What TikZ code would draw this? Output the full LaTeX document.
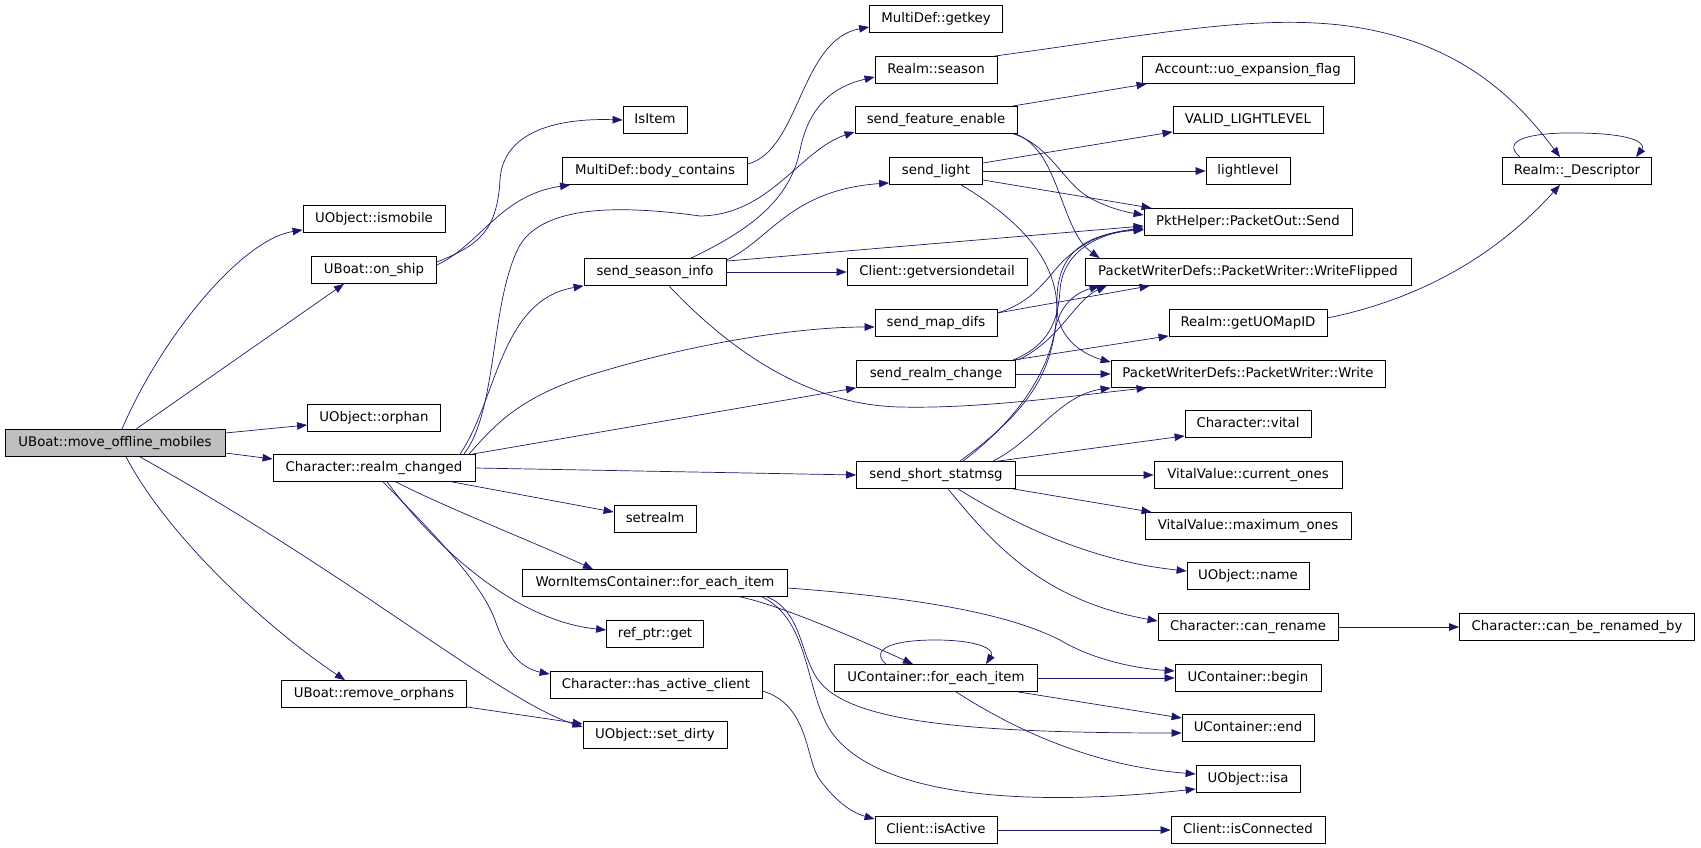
\documentclass[tikz,border=0pt]{standalone}
\usepackage{fontspec}
\setmainfont{DejaVu Sans}
\usetikzlibrary{arrows.meta}
\definecolor{callblue}{RGB}{25,25,112}
\definecolor{rootgray}{RGB}{191,191,191}
\tikzset{
    fn/.style={rectangle, draw, line width=0.8pt, minimum height=27pt, inner xsep=2pt, inner ysep=0pt, text height=10pt, text depth=3pt, font=\fontsize{13.3}{15}\selectfont},
    root/.style={fn, fill=rootgray},
    call/.style={color=callblue, line width=0.7pt, -{Triangle[length=10pt, width=7.5pt]}}
}
\begin{document}
\begin{tikzpicture}[x=1pt, y=-1pt]
        \useasboundingbox (0,0) rectangle (1701,848);

        \node (M) [root, minimum width=220pt] at (115,443) {UBoat::move\_offline\_mobiles};

        \node (ismobile) [fn, minimum width=142pt] at (374,219) {UObject::ismobile};
        \node (onship) [fn, minimum width=125pt] at (374,270) {UBoat::on\_ship};
        \node (orphan) [fn, minimum width=133pt] at (374,418) {UObject::orphan};
        \node (R) [fn, minimum width=202pt] at (374,468) {Character::realm\_changed};
        \node (remove) [fn, minimum width=185pt] at (374,694) {UBoat::remove\_orphans};

        \node (isitem) [fn, minimum width=64pt] at (655,120) {IsItem};
        \node (body) [fn, minimum width=185pt] at (655,171) {MultiDef::body\_contains};
        \node (S) [fn, minimum width=142pt] at (655,272) {send\_season\_info};
        \node (setrealm) [fn, minimum width=82pt] at (655,519) {setrealm};
        \node (W) [fn, minimum width=265pt] at (655,583) {WornItemsContainer::for\_each\_item};
        \node (ref) [fn, minimum width=97pt] at (655,634) {ref\_ptr::get};
        \node (hasclient) [fn, minimum width=212pt] at (656,685) {Character::has\_active\_client};
        \node (dirty) [fn, minimum width=144pt] at (655,735) {UObject::set\_dirty};

        \node (getkey) [fn, minimum width=133pt] at (936,19) {MultiDef::getkey};
        \node (season) [fn, minimum width=122pt] at (936,70) {Realm::season};
        \node (F) [fn, minimum width=162pt] at (936,120) {send\_feature\_enable};
        \node (L) [fn, minimum width=93pt] at (936,171) {send\_light};
        \node (getver) [fn, minimum width=180pt] at (937,272) {Client::getversiondetail};
        \node (D) [fn, minimum width=122pt] at (936,323) {send\_map\_difs};
        \node (C) [fn, minimum width=159pt] at (936,374) {send\_realm\_change};
        \node (T) [fn, minimum width=159pt] at (936,475) {send\_short\_statmsg};
        \node (U) [fn, minimum width=203pt] at (936,678) {UContainer::for\_each\_item};
        \node (active) [fn, minimum width=122pt] at (936,830) {Client::isActive};

        \node (account) [fn, minimum width=212pt] at (1248,70) {Account::uo\_expansion\_flag};
        \node (valid) [fn, minimum width=150pt] at (1248,120) {VALID\_LIGHTLEVEL};
        \node (light) [fn, minimum width=84pt] at (1248,171) {lightlevel};
        \node (send) [fn, minimum width=208pt] at (1248,222) {PktHelper::PacketOut::Send};
        \node (WF) [fn, minimum width=326pt] at (1248,272) {PacketWriterDefs::PacketWriter::WriteFlipped};
        \node (mapid) [fn, minimum width=158pt] at (1248,323) {Realm::getUOMapID};
        \node (write) [fn, minimum width=274pt] at (1248,374) {PacketWriterDefs::PacketWriter::Write};
        \node (vital) [fn, minimum width=126pt] at (1248,424) {Character::vital};
        \node (current) [fn, minimum width=188pt] at (1248,475) {VitalValue::current\_ones};
        \node (maximum) [fn, minimum width=206pt] at (1248,526) {VitalValue::maximum\_ones};
        \node (name) [fn, minimum width=122pt] at (1248,576) {UObject::name};
        \node (rename) [fn, minimum width=180pt] at (1248,627) {Character::can\_rename};
        \node (begin) [fn, minimum width=146pt] at (1248,678) {UContainer::begin};
        \node (end) [fn, minimum width=132pt] at (1248,728) {UContainer::end};
        \node (isa) [fn, minimum width=104pt] at (1248,779) {UObject::isa};
        \node (connected) [fn, minimum width=154pt] at (1248,830) {Client::isConnected};

        \node (desc) [fn, minimum width=149pt] at (1577,171) {Realm::\_Descriptor};
        \node (renamedby) [fn, minimum width=235pt] at (1577,627) {Character::can\_be\_renamed\_by};

        % move_offline_mobiles
        \draw [call] ([xshift=7pt]M.north) .. controls (160,340) and (240,240) .. ([yshift=3pt]ismobile.south west);
        \draw [call] ([xshift=21pt]M.north) -- ([xshift=-30pt]onship.south);
        \draw [call] ([yshift=10pt]M.east) -- ([yshift=-7pt]orphan.west);
        \draw [call] ([yshift=-10pt]M.east) -- ([yshift=9pt]R.west);
        \draw [call] ([xshift=11pt]M.south) .. controls (170,540) and (270,630) .. ([xshift=-29pt]remove.north);
        \draw [call] ([xshift=25pt]M.south) .. controls (360,580) and (500,700) .. ([yshift=8pt]dirty.west);
        \draw [call] ([yshift=-13pt]remove.east) -- ([yshift=11pt]dirty.west);

        % on_ship
        \draw [call] ([yshift=8pt]onship.east) .. controls (480,245) and (497,230) .. (500,180) .. controls (503,130) and (560,118) .. (isitem.west);
        \draw [call] ([yshift=5pt]onship.east) .. controls (480,245) and (500,195) .. ([xshift=8pt]body.south west);
        \draw [call] ([yshift=7pt]body.east) .. controls (800,150) and (800,40) .. ([yshift=-8pt]getkey.west);

        % realm_changed
        \draw [call] ([xshift=90pt]R.north) .. controls (498,410) and (490,300) .. (520,245) .. controls (545,205) and (620,205) .. (700,216) .. controls (770,215) and (800,150) .. ([yshift=2pt]F.south west);
        \draw [call] ([xshift=86pt]R.north) .. controls (497,400) and (500,300) .. (S.south west);
        \draw [call] ([xshift=95pt]R.north) .. controls (495,425) and (520,395) .. (600,372) .. controls (700,342) and (800,327) .. ([yshift=-4pt]D.west);
        \draw [call] ([xshift=-3pt]R.north east) -- (C.south west);
        \draw [call] (R.east) -- (T.west);
        \draw [call] ([xshift=78pt]R.south) -- ([yshift=7pt]setrealm.west);
        \draw [call] ([xshift=22pt]R.south) .. controls (440,505) and (540,545) .. ([xshift=-62pt]W.north);
        \draw [call] ([xshift=13pt]R.south) .. controls (430,540) and (510,620) .. ([yshift=4pt]ref.west);
        \draw [call] ([xshift=9pt]R.south) .. controls (430,530) and (480,580) .. (495,620) .. controls (505,650) and (520,668) .. ([yshift=-3pt]hasclient.north west);

        % send_season_info
        \draw [call] ([xshift=36pt]S.north) .. controls (750,230) and (790,200) .. (800,150) .. controls (810,100) and (840,85) .. ([yshift=-7pt]season.west);
        \draw [call] ([yshift=-2pt]S.north east) .. controls (770,240) and (790,190) .. ([yshift=2pt]L.south west);
        \draw [call] ([yshift=-3pt]S.north east) -- ([yshift=-4pt]send.west);
        \draw [call] (S.east) -- (getver.west);
        \draw [call] ([xshift=14pt]S.south) .. controls (720,340) and (800,405) .. (900,407) .. controls (980,409) and (1080,395) .. ([xshift=36pt]write.south west);

        % send_feature_enable, send_light
        \draw [call] ([xshift=-5pt]F.north east) -- ([xshift=5pt]account.south west);
        \draw [call] ([xshift=-4pt]F.south east) .. controls (1050,145) and (1065,185) .. (1090,198) .. controls (1105,206) and (1120,211) .. ([yshift=7pt]send.west);
        \draw [call] ([xshift=-2pt]F.south east) .. controls (1060,150) and (1060,230) .. ([xshift=15pt]WF.north west);
        \draw [call] ([yshift=8pt]L.east) -- ([yshift=2pt]valid.south west);
        \draw [call] (L.east) -- (light.west);
        \draw [call] ([yshift=-9pt]L.east) -- ([xshift=8pt]send.north west);
        \draw [call] ([xshift=25pt]L.south) .. controls (1020,220) and (1057,260) .. (1057,310) .. controls (1059,340) and (1085,355) .. ([yshift=-2pt]write.north west);

        % send_map_difs, send_realm_change
        \draw [call] ([yshift=10pt]D.east) .. controls (1040,300) and (1050,270) .. (1070,255) .. controls (1090,238) and (1110,232) .. ([yshift=-6pt]send.west);
        \draw [call] ([yshift=10pt]D.east) -- ([xshift=65pt]WF.south west);
        \draw [call] ([xshift=-3pt]C.north east) .. controls (1050,345) and (1058,320) .. (1060,290) .. controls (1063,250) and (1100,233) .. ([yshift=-7pt]send.west);
        \draw [call] ([xshift=2pt]C.north east) .. controls (1060,340) and (1075,300) .. ([xshift=22pt]WF.south west);
        \draw [call] ([xshift=-3pt]C.north east) -- ([yshift=1pt]mapid.south west);
        \draw [call] (C.east) -- (write.west);

        % send_short_statmsg
        \draw [call] ([xshift=24pt]T.north) .. controls (1030,410) and (1057,370) .. (1057,300) .. controls (1057,250) and (1090,233) .. ([yshift=-8pt]send.west);
        \draw [call] ([xshift=27pt]T.north) .. controls (1030,410) and (1050,360) .. (1055,330) .. controls (1060,305) and (1075,293) .. ([xshift=15pt]WF.south west);
        \draw [call] ([xshift=57pt]T.north) .. controls (1035,440) and (1060,395) .. (write.south west);
        \draw [call] ([xshift=-18pt]T.north east) -- ([yshift=2pt]vital.south west);
        \draw [call] (T.east) -- (current.west);
        \draw [call] ([xshift=-3pt]T.south east) -- ([xshift=7pt]maximum.north west);
        \draw [call] ([xshift=22pt]T.south) .. controls (1000,515) and (1080,560) .. ([yshift=5pt]name.west);
        \draw [call] ([xshift=12pt]T.south) .. controls (990,540) and (1040,600) .. ([yshift=6pt]rename.west);

        % Realm::_Descriptor
        \draw [call] ([xshift=-3pt]season.north east) .. controls (1150,35) and (1250,15) .. (1340,25) .. controls (1450,38) and (1510,90) .. ([xshift=-17pt]desc.north);
        \draw [call] ([xshift=-57pt]desc.north) .. controls (1500,140) and (1530,132) .. (1580,133) .. controls (1640,134) and (1645,145) .. ([xshift=59pt]desc.north);
        \draw [call] ([yshift=5pt]mapid.east) .. controls (1440,295) and (1510,240) .. ([xshift=-17pt]desc.south);
        \draw [call] (rename.east) -- (renamedby.west);

        % containers
        \draw [call] ([xshift=85pt]W.south) .. controls (780,605) and (860,640) .. ([xshift=-23pt]U.north);
        \draw [call] ([xshift=-50pt]U.north) .. controls (870,650) and (890,640) .. (935,640) .. controls (980,640) and (995,650) .. ([xshift=50pt]U.north);
        \draw [call] ([yshift=-5pt]W.east) .. controls (950,600) and (1020,620) .. (1060,640) .. controls (1090,658) and (1130,668) .. ([yshift=7pt]begin.west);
        \draw [call] ([xshift=112pt]W.south) .. controls (800,610) and (800,650) .. (815,675) .. controls (840,720) and (950,733) .. ([yshift=-5pt]end.west);
        \draw [call] ([xshift=107pt]W.south) .. controls (810,620) and (805,690) .. (830,730) .. controls (870,790) and (1000,810) .. ([yshift=-10pt]isa.west);
        \draw [call] (U.east) -- (begin.west);
        \draw [call] ([xshift=-20pt]U.south east) -- ([yshift=10pt]end.west);
        \draw [call] ([xshift=20pt]U.south) .. controls (1000,720) and (1080,765) .. ([yshift=5pt]isa.west);

        % clients
        \draw [call] ([yshift=-6pt]hasclient.east) .. controls (810,705) and (805,760) .. (820,780) .. controls (835,800) and (850,812) .. ([yshift=-3pt]active.north west);
        \draw [call] (active.east) -- (connected.west);
    \end{tikzpicture}
\end{document}
